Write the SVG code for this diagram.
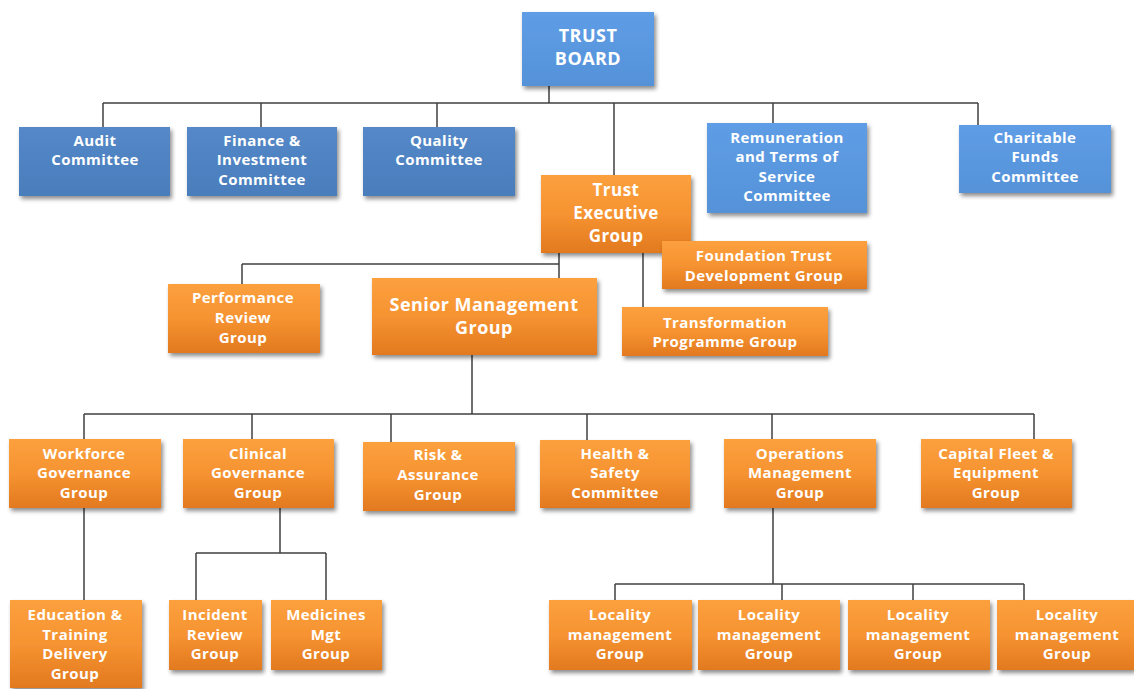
<svg xmlns="http://www.w3.org/2000/svg" width="1134" height="689" viewBox="0 0 1134 689">
<defs>
<linearGradient id="gOr" x1="0" y1="0" x2="0" y2="1">
<stop offset="0" stop-color="#fca03e"/>
<stop offset="0.5" stop-color="#f69331"/>
<stop offset="1" stop-color="#e2791f"/>
</linearGradient>
<linearGradient id="gBl" x1="0" y1="0" x2="0" y2="1">
<stop offset="0" stop-color="#5e9de6"/>
<stop offset="1" stop-color="#5592d8"/>
</linearGradient>
<linearGradient id="gBd" x1="0" y1="0" x2="0" y2="1">
<stop offset="0" stop-color="#5488c8"/>
<stop offset="1" stop-color="#4a7dbc"/>
</linearGradient>
<filter id="sh" x="-10%" y="-10%" width="125%" height="130%">
<feDropShadow dx="2" dy="3" stdDeviation="2" flood-color="#000" flood-opacity="0.45"/>
</filter>
<style>
.or{fill:url(#gOr);filter:url(#sh);}
.bl{fill:url(#gBl);filter:url(#sh);}
.bd{fill:url(#gBd);filter:url(#sh);}
text{font-family:"Open Sans","Liberation Sans",sans-serif;font-weight:700;fill:#fff;text-anchor:middle;font-size:15px;letter-spacing:0.45px;}
.big{font-size:17px;}
.xl{font-size:18px;}
.cn{fill:none;stroke:#404040;stroke-width:1.5;}
</style>
</defs>
<g id="connectors">
<path class="cn" d="M549,86V103M103,103H978M103,103V127M261,103V127M437,103V127M614,103V175M773,103V123M978,103V125"/>
<path class="cn" d="M559,253V278M242,264H559M242,264V284M643,253V307"/>
<path class="cn" d="M472,355V414M84,414H1034M84,414V439M252,414V439M391,414V442M587,414V440M772,414V439M1034,414V439"/>
<path class="cn" d="M84,508V600M280,508V553M196,553H326M196,553V600M326,553V600"/>
<path class="cn" d="M773,508V584M615,584H1024M615,584V600M782,584V600M913,584V600M1024,584V600"/>
</g>
<g id="trust-board"><rect class="bl" x="522" y="12" width="132" height="74"/><text class="xl" x="588" y="42">TRUST</text><text class="xl" x="588" y="65">BOARD</text></g>
<g id="audit"><rect class="bd" x="19" y="127" width="151" height="69"/><text x="95" y="146">Audit</text><text x="95" y="165">Committee</text></g>
<g id="finance"><rect class="bd" x="187" y="127" width="150" height="69"/><text x="262" y="146">Finance &amp;</text><text x="262" y="165">Investment</text><text x="262" y="185">Committee</text></g>
<g id="quality"><rect class="bd" x="363" y="127" width="152" height="69"/><text x="439" y="146">Quality</text><text x="439" y="165">Committee</text></g>
<g id="remuneration"><rect class="bl" x="707" y="123" width="160" height="90"/><text x="787" y="143">Remuneration</text><text x="787" y="162">and Terms of</text><text x="787" y="182">Service</text><text x="787" y="201">Committee</text></g>
<g id="charitable"><rect class="bl" x="959" y="125" width="152" height="68"/><text x="1035" y="143">Charitable</text><text x="1035" y="162">Funds</text><text x="1035" y="182">Committee</text></g>
<g id="trust-exec"><rect class="or" x="541" y="175" width="150" height="78"/><text class="big" x="616" y="196">Trust</text><text class="big" x="616" y="219">Executive</text><text class="big" x="616" y="242">Group</text></g>
<g id="foundation"><rect class="or" x="662" y="241" width="205" height="48"/><text x="764" y="261">Foundation Trust</text><text x="764" y="281">Development Group</text></g>
<g id="transformation"><rect class="or" x="622" y="307" width="206" height="49"/><text x="725" y="328">Transformation</text><text x="725" y="347">Programme Group</text></g>
<g id="performance"><rect class="or" x="168" y="284" width="152" height="69"/><text x="243" y="303">Performance</text><text x="243" y="323">Review</text><text x="243" y="343">Group</text></g>
<g id="senior"><rect class="or" x="372" y="278" width="225" height="77"/><text class="xl" x="484" y="311">Senior Management</text><text class="xl" x="484" y="334">Group</text></g>
<g id="workforce"><rect class="or" x="9" y="439" width="152" height="69"/><text x="84" y="459">Workforce</text><text x="84" y="478">Governance</text><text x="84" y="498">Group</text></g>
<g id="clinical"><rect class="or" x="183" y="439" width="151" height="69"/><text x="258" y="459">Clinical</text><text x="258" y="478">Governance</text><text x="258" y="498">Group</text></g>
<g id="risk"><rect class="or" x="363" y="442" width="152" height="69"/><text x="438" y="460">Risk &amp;</text><text x="438" y="480">Assurance</text><text x="438" y="500">Group</text></g>
<g id="health"><rect class="or" x="540" y="440" width="150" height="68"/><text x="615" y="459">Health &amp;</text><text x="615" y="478">Safety</text><text x="615" y="498">Committee</text></g>
<g id="operations"><rect class="or" x="724" y="439" width="152" height="69"/><text x="800" y="459">Operations</text><text x="800" y="478">Management</text><text x="800" y="498">Group</text></g>
<g id="capital"><rect class="or" x="921" y="439" width="151" height="69"/><text x="996" y="459">Capital Fleet &amp;</text><text x="996" y="478">Equipment</text><text x="996" y="498">Group</text></g>
<g id="education"><rect class="or" x="10" y="600" width="132" height="88"/><text x="75" y="620">Education &amp;</text><text x="75" y="640">Training</text><text x="75" y="659">Delivery</text><text x="75" y="679">Group</text></g>
<g id="incident"><rect class="or" x="169" y="600" width="93" height="70"/><text x="215" y="620">Incident</text><text x="215" y="640">Review</text><text x="215" y="659">Group</text></g>
<g id="medicines"><rect class="or" x="271" y="600" width="111" height="70"/><text x="326" y="620">Medicines</text><text x="326" y="640">Mgt</text><text x="326" y="659">Group</text></g>
<g id="locality1"><rect class="or" x="549" y="600" width="143" height="70"/><text x="620" y="620">Locality</text><text x="620" y="640">management</text><text x="620" y="659">Group</text></g>
<g id="locality2"><rect class="or" x="698" y="600" width="142" height="70"/><text x="769" y="620">Locality</text><text x="769" y="640">management</text><text x="769" y="659">Group</text></g>
<g id="locality3"><rect class="or" x="848" y="600" width="142" height="70"/><text x="918" y="620">Locality</text><text x="918" y="640">management</text><text x="918" y="659">Group</text></g>
<g id="locality4"><rect class="or" x="997" y="600" width="137" height="70"/><text x="1067" y="620">Locality</text><text x="1067" y="640">management</text><text x="1067" y="659">Group</text></g>
</svg>
